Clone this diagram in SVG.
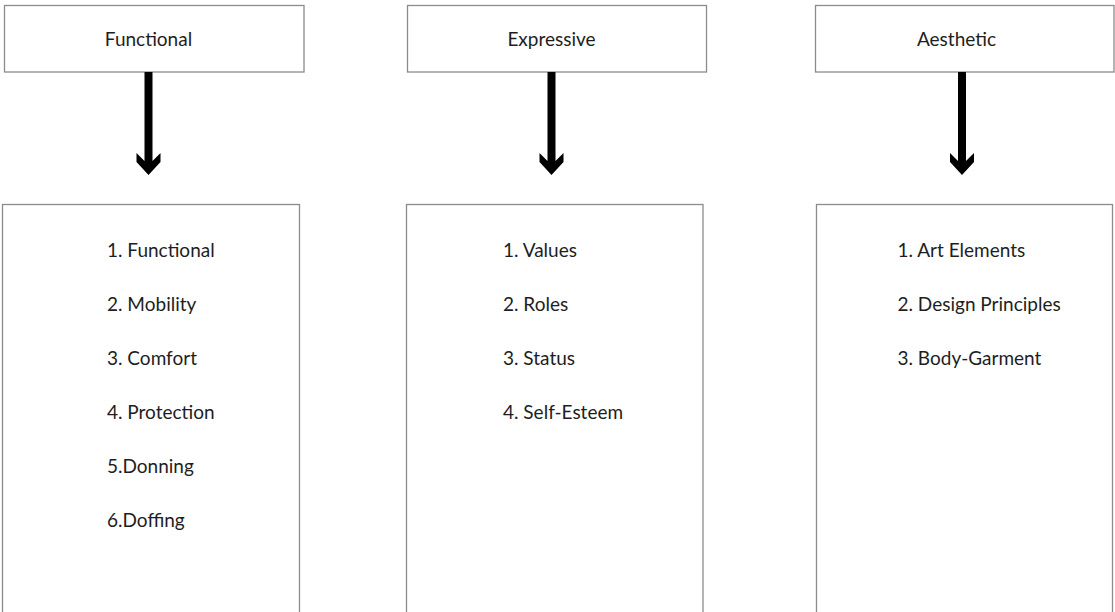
<svg xmlns="http://www.w3.org/2000/svg" width="1115" height="612" viewBox="0 0 1115 612">
<style>
.box{fill:#fff;stroke:#8c8c8c;stroke-width:1.3}
.t{font-family:Lato,"Open Sans","Liberation Sans",sans-serif;font-size:19px;fill:#1e1e1e}
.h{text-anchor:middle}
.arr{fill:#000}
</style>
<rect width="1115" height="612" fill="#fff"/>
<g id="functional-head">
<rect class="box" x="4.5" y="5.5" width="299.5" height="66.5"/>
<text class="t h" x="148.5" y="46">Functional</text>
</g>
<g id="expressive-head">
<rect class="box" x="407.5" y="5.5" width="299" height="66.5"/>
<text class="t h" x="551.5" y="46">Expressive</text>
</g>
<g id="aesthetic-head">
<rect class="box" x="815.5" y="5.5" width="298.5" height="66.5"/>
<text class="t h" x="956.5" y="46">Aesthetic</text>
</g>
<g id="connectors">
<polygon class="arr" points="144.5,72 152.5,72 152.5,161 160.5,153 160.5,162 148.5,175 136.5,162 136.5,153 144.5,161"/>
<polygon class="arr" points="547.5,72 555.5,72 555.5,161 563.5,153 563.5,162 551.5,175 539.5,162 539.5,153 547.5,161"/>
<polygon class="arr" points="958,72 966,72 966,161 974,153 974,162 962,175 950,162 950,153 958,161"/>
</g>
<g id="functional-list">
<rect class="box" x="2.5" y="204.5" width="297" height="420"/>
<text class="t" x="107" y="257">1. Functional</text>
<text class="t" x="107" y="311">2. Mobility</text>
<text class="t" x="107" y="364.5">3. Comfort</text>
<text class="t" x="107" y="418.5">4. Protection</text>
<text class="t" x="107" y="473">5.Donning</text>
<text class="t" x="107" y="527">6.Doffing</text>
</g>
<g id="expressive-list">
<rect class="box" x="406.5" y="204.5" width="296.5" height="420"/>
<text class="t" x="503" y="257">1. Values</text>
<text class="t" x="503" y="311">2. Roles</text>
<text class="t" x="503" y="364.5">3. Status</text>
<text class="t" x="503" y="418.5">4. Self-Esteem</text>
</g>
<g id="aesthetic-list">
<rect class="box" x="816.5" y="204.5" width="296" height="420"/>
<text class="t" x="897.5" y="257">1. Art Elements</text>
<text class="t" x="897.5" y="311">2. Design Principles</text>
<text class="t" x="897.5" y="364.5">3. Body-Garment</text>
</g>
</svg>
